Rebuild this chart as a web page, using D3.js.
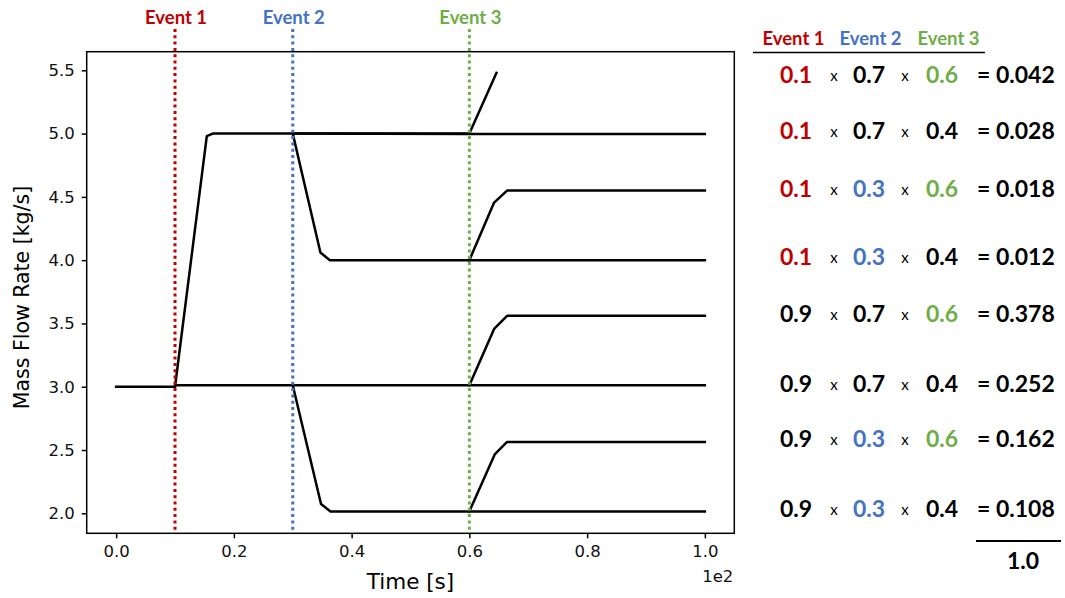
<!DOCTYPE html>
<html>
<head>
<meta charset="utf-8">
<script src="https://cdn.jsdelivr.net/npm/d3@7"></script>
<style>
  html, body { margin: 0; padding: 0; background: #fff; }
  svg { display: block; }
</style>
</head>
<body>
<svg id="chart" width="1065" height="598"></svg>
<script>
// ---------------- DATA ----------------
// Time in seconds, mass flow rate in kg/s
const eventNames = ["Event 1", "Event 2", "Event 3"];
const eventTimes = [10, 30, 60];
const eventColors = ["#C00000", "#4472C4", "#70AD47"];

// Trajectories (one per branch)
const pathE1E2nE3 = [[0, 3.0], [10, 3.0], [14.5, 4.65], [15.4, 4.98], [16.4, 5.0], [30, 5.0], [60, 5.0], [64.6, 5.48]];
const pathE1E2nE3n = [[30, 5.0], [60, 4.997], [100, 4.997]];
const pathE1E2E3 = [[30, 5.0], [34.7, 4.06], [36.3, 4.0], [60, 4.0], [64.2, 4.455], [66.4, 4.55], [100, 4.55]];
const pathE1E2E3n = [[60, 4.0], [100, 4.0]];
const pathnE1nE2E3 = [[10, 3.0], [10.1, 3.012], [30, 3.012], [60, 3.012], [64.2, 3.457], [66.4, 3.56], [100, 3.56]];
const pathnE1nE2nE3 = [[60, 3.012], [100, 3.012]];
const pathnE1E2E3 = [[30, 3.012], [34.8, 2.074], [36.4, 2.015], [60, 2.015], [64.3, 2.465], [66.4, 2.564], [100, 2.564]];
const pathnE1E2nE3 = [[60, 2.015], [100, 2.015]];
const trajectories = [pathE1E2nE3, pathE1E2nE3n, pathE1E2E3, pathE1E2E3n, pathnE1nE2E3, pathnE1nE2nE3, pathnE1E2E3, pathnE1E2nE3];

const xTicks = [0, 20, 40, 60, 80, 100];
const yTicks = [2.0, 2.5, 3.0, 3.5, 4.0, 4.5, 5.0, 5.5];

// Probability table
const probE1 = [0.1, 0.1, 0.1, 0.1, 0.9, 0.9, 0.9, 0.9];
const probE2 = [0.7, 0.7, 0.3, 0.3, 0.7, 0.7, 0.3, 0.3];
const probE3 = [0.6, 0.4, 0.6, 0.4, 0.6, 0.4, 0.6, 0.4];
const products = ["0.042", "0.028", "0.018", "0.012", "0.378", "0.252", "0.162", "0.108"];
const totalLabel = "1.0";
// values that indicate the event occurred get the event colour
const occurred = [0.1, 0.3, 0.6];

// ---------------- LAYOUT ----------------
const svg = d3.select("#chart");
const plot = { left: 86.7, right: 734.3, top: 51.7, bottom: 533.3 };

const x = d3.scaleLinear().domain([-5, 105]).range([plot.left, plot.right]);
const y = d3.scaleLinear().domain([1.842, 5.647]).range([plot.bottom, plot.top]);

const tickFont = "'DejaVu Sans', sans-serif";
const tableFont = "Lato, 'Open Sans', sans-serif";

// lines
const line = d3.line().x(d => x(d[0])).y(d => y(d[1]));
svg.append("g").selectAll("path").data(trajectories).join("path")
  .attr("d", line)
  .attr("fill", "none")
  .attr("stroke", "#000")
  .attr("stroke-width", 2.5)
  .attr("stroke-linejoin", "round")
  .attr("stroke-linecap", "square");

// event lines
svg.append("g").selectAll("line").data(eventTimes).join("line")
  .attr("x1", d => x(d)).attr("x2", d => x(d))
  .attr("y1", 29).attr("y2", plot.bottom)
  .attr("stroke", (d, i) => eventColors[i])
  .attr("stroke-width", 3)
  .attr("stroke-dasharray", "3,3.3");

svg.append("g").selectAll("text").data(eventTimes).join("text")
  .attr("x", d => x(d) + 1)
  .attr("y", 24)
  .attr("text-anchor", "middle")
  .attr("font-family", tableFont)
  .attr("font-weight", "bold")
  .attr("font-size", 18.5)
  .attr("fill", (d, i) => eventColors[i])
  .text((d, i) => eventNames[i]);

// frame
svg.append("rect")
  .attr("x", plot.left).attr("y", plot.top)
  .attr("width", plot.right - plot.left).attr("height", plot.bottom - plot.top)
  .attr("fill", "none").attr("stroke", "#000").attr("stroke-width", 1.5);

// axes
const xAxis = d3.axisBottom(x).tickValues(xTicks).tickFormat(d => d3.format(".1f")(d / 100))
  .tickSize(5).tickPadding(7);
const gx = svg.append("g").attr("transform", `translate(0,${plot.bottom})`).call(xAxis);
const yAxis = d3.axisLeft(y).tickValues(yTicks).tickFormat(d3.format(".1f"))
  .tickSize(5).tickPadding(7);
const gy = svg.append("g").attr("transform", `translate(${plot.left},0)`).call(yAxis);
[gx, gy].forEach(g => {
  g.select(".domain").remove();
  g.selectAll(".tick line").attr("stroke", "#000").attr("stroke-width", 1.5);
  g.selectAll(".tick text").attr("font-family", tickFont).attr("font-size", 16.5).attr("fill", "#111");
});

// axis labels
svg.append("text")
  .attr("x", (plot.left + plot.right) / 2).attr("y", 589)
  .attr("text-anchor", "middle")
  .attr("font-family", tickFont).attr("font-size", 21.5).attr("fill", "#000")
  .text("Time [s]");
svg.append("text")
  .attr("transform", `translate(29,${(plot.top + plot.bottom) / 2 + 5}) rotate(-90)`)
  .attr("text-anchor", "middle")
  .attr("font-family", tickFont).attr("font-size", 20.5).attr("fill", "#000")
  .text("Mass Flow Rate [kg/s]");
svg.append("text")
  .attr("x", plot.right - 1).attr("y", 582)
  .attr("text-anchor", "end")
  .attr("font-family", tickFont).attr("font-size", 16.5).attr("fill", "#111")
  .text("1e2");

// ---------------- TABLE ----------------
const headerX = [793.5, 870.5, 948.5];
const colX = [796, 869, 942];
const crossX = [834, 905];
const eqX = 977;
const rowY = [83, 139, 197, 265, 321.5, 392, 446.5, 516.5];

const tbl = svg.append("g").attr("font-family", tableFont);
tbl.selectAll("text.hdr").data(eventNames).join("text")
  .attr("class", "hdr")
  .attr("x", (d, i) => headerX[i]).attr("y", 45)
  .attr("text-anchor", "middle").attr("font-weight", "bold").attr("font-size", 18.5)
  .attr("fill", (d, i) => eventColors[i])
  .text(d => d);
tbl.append("line").attr("x1", 753).attr("x2", 985).attr("y1", 52.5).attr("y2", 52.5)
  .attr("stroke", "#000").attr("stroke-width", 1.5);

const cols = [probE1, probE2, probE3];
rowY.forEach((ry, r) => {
  cols.forEach((col, c) => {
    const v = col[r];
    tbl.append("text")
      .attr("x", colX[c]).attr("y", ry)
      .attr("text-anchor", "middle").attr("font-weight", "bold").attr("font-size", 23)
      .attr("fill", v === occurred[c] ? eventColors[c] : "#000")
      .text(d3.format(".1f")(v));
  });
  crossX.forEach(cx => {
    tbl.append("text").attr("x", cx).attr("y", ry - 2)
      .attr("text-anchor", "middle").attr("font-size", 15).attr("fill", "#000").text("x");
  });
  tbl.append("text").attr("x", eqX).attr("y", ry)
    .attr("font-weight", "bold").attr("font-size", 23).attr("fill", "#000")
    .text("= " + products[r]);
});
tbl.append("line").attr("x1", 976).attr("x2", 1061).attr("y1", 541).attr("y2", 541)
  .attr("stroke", "#000").attr("stroke-width", 1.8);
tbl.append("text").attr("x", 1023).attr("y", 569)
  .attr("text-anchor", "middle").attr("font-weight", "bold").attr("font-size", 23).attr("fill", "#000")
  .text(totalLabel);
</script>
</body>
</html>
